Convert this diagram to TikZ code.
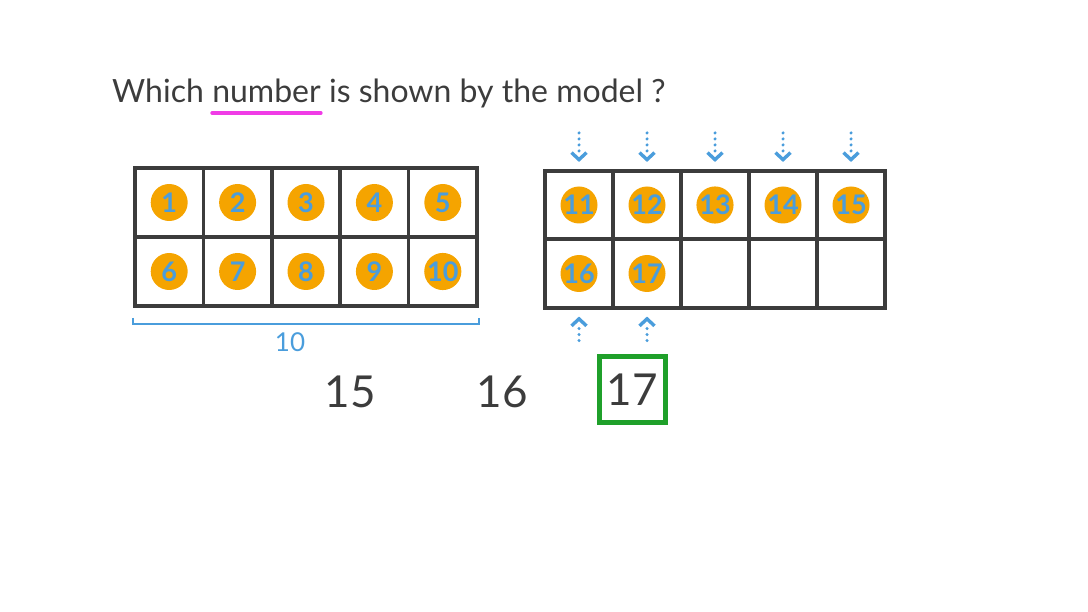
\documentclass[tikz,border=0pt]{standalone}
\usepackage{fontspec}
\setmainfont{Lato}
\usetikzlibrary{positioning,arrows.meta,decorations.markings}
\definecolor{ink}{HTML}{3C3C3C}
\definecolor{dotblue}{HTML}{4A9DDC}
\definecolor{counter}{HTML}{F5A400}
\definecolor{pen}{HTML}{F03CE6}
\definecolor{mark}{HTML}{1FA02A}

\begin{document}
\begin{tikzpicture}[x=1pt,y=-1pt,
	word/.style={inner sep=0pt, anchor=base west, text=ink, font=\fontsize{32}{32}\selectfont},
	lcell/.style={draw=ink, line width=3.6pt, minimum width=68.4pt, minimum height=69pt, inner sep=0pt},
	rcell/.style={draw=ink, line width=3.6pt, minimum width=68pt, minimum height=68.5pt, inner sep=0pt},
	dot/.style={circle, fill=counter, minimum size=37pt, inner sep=0pt, text=dotblue, font=\fontsize{27}{27}\selectfont\bfseries},
	hint/.style={draw=dotblue, line width=3.4pt, dash pattern=on 0pt off 6pt, line cap=round, shorten >=8pt,
		postaction={decorate, decoration={markings, mark=at position 1 with {\pgfsetdash{}{0pt}\pgfsetroundcap\pgfsetroundjoin\arrow{Straight Barb[length=7pt,width=15pt,line width=3.4pt]}}}}},
	choice/.style={inner sep=0pt, text=ink, font=\fontsize{44}{44}\selectfont}]
	\useasboundingbox (0,0) rectangle (1088,612);

	% question
	\node[word] (which) at (112,103) {Which};
	\node[word, right=8pt of which.base east, anchor=base west] (number) {number};
	\node[word, right=8pt of number.base east, anchor=base west] (rest) {is shown by the model ?};
	\draw[pen, line width=3.5pt, line cap=round] ([yshift=-10pt]number.base west) -- ([yshift=-10pt]number.base east);

	% first ten frame
	\node[lcell] (L1) at (169.2,202.5) {};
	\node[lcell] (L2) at (237.6,202.5) {};
	\node[lcell] (L3) at (306.0,202.5) {};
	\node[lcell] (L4) at (374.4,202.5) {};
	\node[lcell] (L5) at (442.8,202.5) {};
	\node[lcell] (L6) at (169.2,271.5) {};
	\node[lcell] (L7) at (237.6,271.5) {};
	\node[lcell] (L8) at (306.0,271.5) {};
	\node[lcell] (L9) at (374.4,271.5) {};
	\node[lcell] (L10) at (442.8,271.5) {};
	\node[dot] (c1) at (L1) {1};
	\node[dot] (c2) at (L2) {2};
	\node[dot] (c3) at (L3) {3};
	\node[dot] (c4) at (L4) {4};
	\node[dot] (c5) at (L5) {5};
	\node[dot] (c6) at (L6) {6};
	\node[dot] (c7) at (L7) {7};
	\node[dot] (c8) at (L8) {8};
	\node[dot] (c9) at (L9) {9};
	\node[dot] (c10) at (L10) {10};

	% bracket under the first frame
	\draw[dotblue, line width=2.4pt] ([yshift=-10pt]L6.south west) -- ([yshift=-16pt]L6.south west) -- ([yshift=-16pt]L10.south east) -- ([yshift=-10pt]L10.south east);
	\node[text=dotblue, font=\fontsize{26}{26}\selectfont] (ten) at (290,342) {10};

	% second ten frame
	\node[rcell] (R1) at (579,205) {};
	\node[rcell] (R2) at (647,205) {};
	\node[rcell] (R3) at (715,205) {};
	\node[rcell] (R4) at (783,205) {};
	\node[rcell] (R5) at (851,205) {};
	\node[rcell] (R6) at (579,273.5) {};
	\node[rcell] (R7) at (647,273.5) {};
	\node[rcell] (R8) at (715,273.5) {};
	\node[rcell] (R9) at (783,273.5) {};
	\node[rcell] (R10) at (851,273.5) {};
	\node[dot] (c11) at (R1) {11};
	\node[dot] (c12) at (R2) {12};
	\node[dot] (c13) at (R3) {13};
	\node[dot] (c14) at (R4) {14};
	\node[dot] (c15) at (R5) {15};
	\node[dot] (c16) at (R6) {16};
	\node[dot] (c17) at (R7) {17};

	% counting arrows
	\coordinate (t1) at ([yshift=36pt]R1.north);
	\coordinate (t2) at ([yshift=36pt]R2.north);
	\coordinate (t3) at ([yshift=36pt]R3.north);
	\coordinate (t4) at ([yshift=36pt]R4.north);
	\coordinate (t5) at ([yshift=36pt]R5.north);
	\coordinate (b6) at ([yshift=-31pt]R6.south);
	\coordinate (b7) at ([yshift=-31pt]R7.south);
	\draw[hint] (t1) -- ([yshift=7pt]R1.north);
	\draw[hint] (t2) -- ([yshift=7pt]R2.north);
	\draw[hint] (t3) -- ([yshift=7pt]R3.north);
	\draw[hint] (t4) -- ([yshift=7pt]R4.north);
	\draw[hint] (t5) -- ([yshift=7pt]R5.north);
	\draw[hint] (b6) -- ([yshift=-7pt]R6.south);
	\draw[hint] (b7) -- ([yshift=-7pt]R7.south);

	% answers
	\node[choice] (n15) at (350,392) {15};
	\node[choice] (n16) at (502,392) {16};
	\node[choice, draw=mark, line width=5pt, minimum size=66pt] (n17) at (632,390) {17};
\end{tikzpicture}
\end{document}
